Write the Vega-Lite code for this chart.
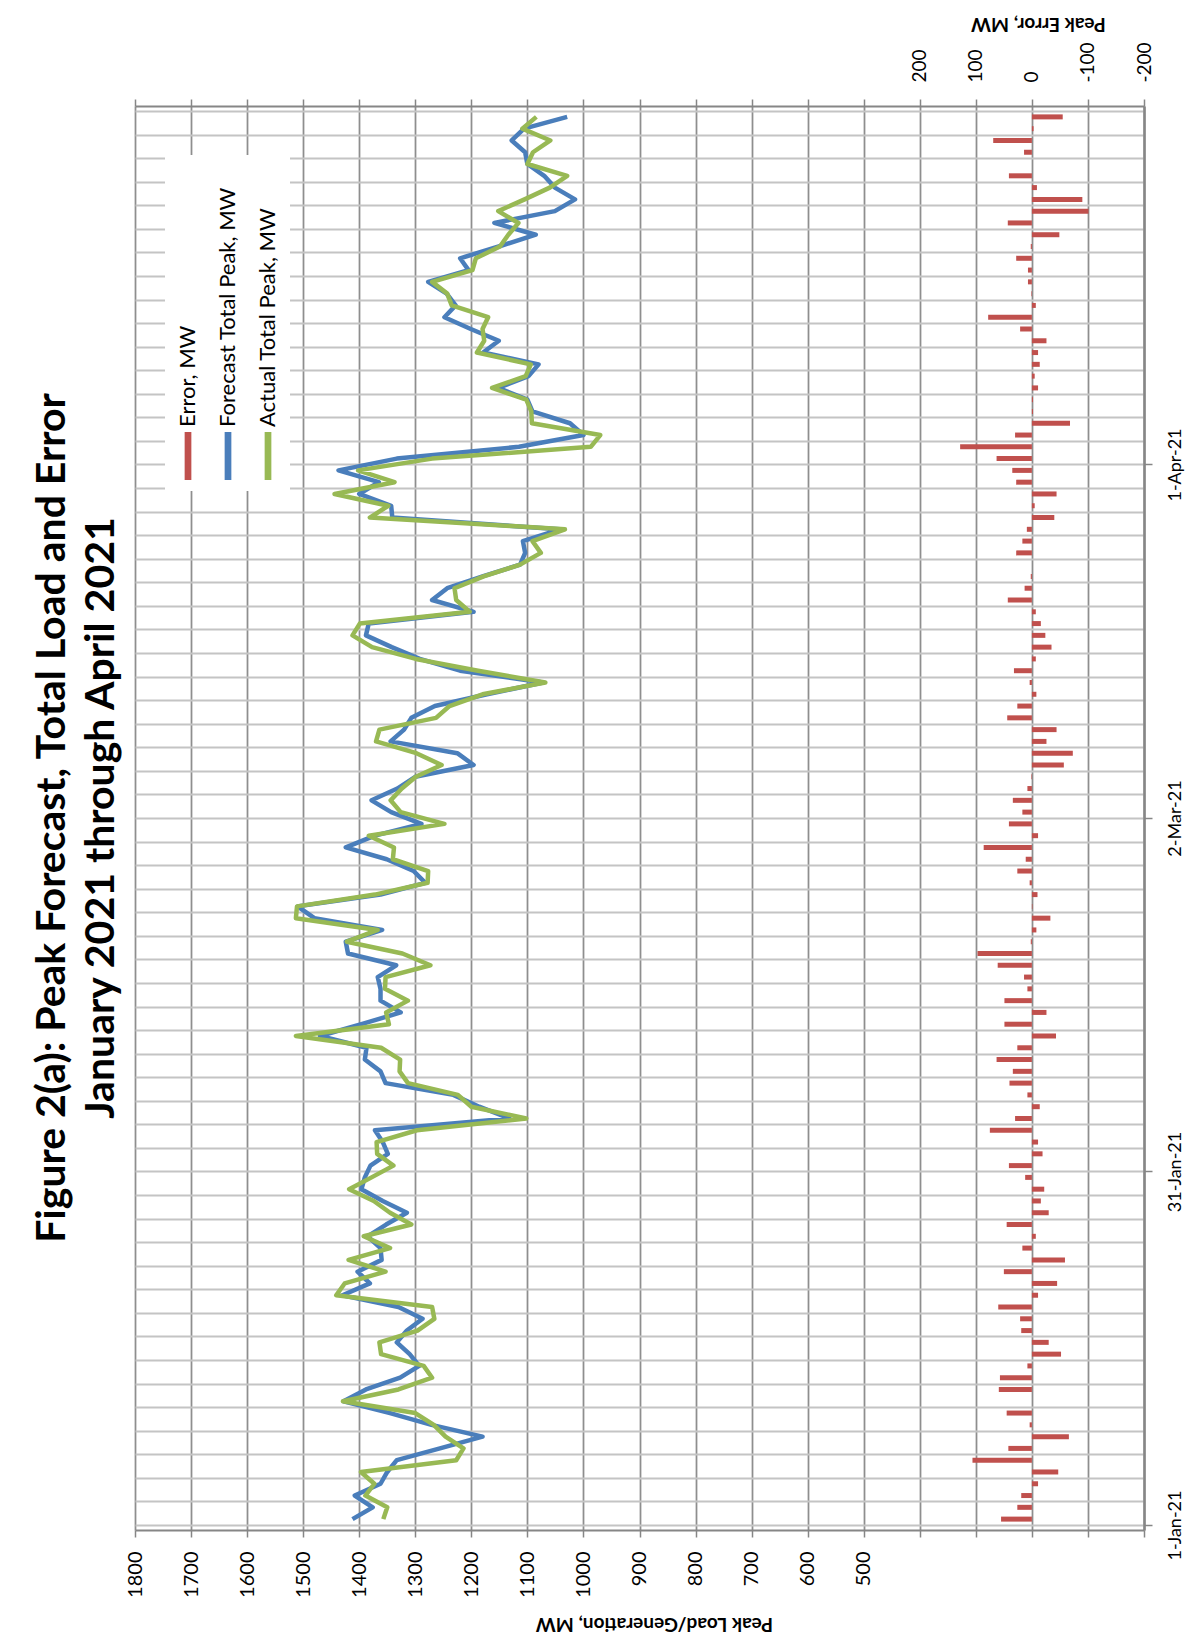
{
  "$schema": "https://vega.github.io/schema/vega-lite/v6.json",
  "width": 1009,
  "height": 1424,
  "autosize": {"type": "none"},
  "padding": {"left": 135, "top": 106, "right": 52, "bottom": 116},
  "background": "#ffffff",
  "title": {
    "text": ["Figure 2(a):  Peak Forecast, Total Load and Error", "January 2021 through April 2021"],
    "orient": "left",
    "anchor": "middle",
    "font": "Lato",
    "fontSize": 41,
    "fontWeight": "bold",
    "color": "#000000",
    "lineHeight": 49,
    "offset": 2
  },
  "data": {
    "values": [
      {"date": "2021-01-01", "forecast": 1412, "actual": 1357, "error": 55},
      {"date": "2021-01-02", "forecast": 1376, "actual": 1350, "error": 26},
      {"date": "2021-01-03", "forecast": 1408, "actual": 1389, "error": 19},
      {"date": "2021-01-04", "forecast": 1362, "actual": 1373, "error": -11},
      {"date": "2021-01-05", "forecast": 1350, "actual": 1397, "error": -47},
      {"date": "2021-01-06", "forecast": 1333, "actual": 1227, "error": 106},
      {"date": "2021-01-07", "forecast": 1256, "actual": 1214, "error": 42},
      {"date": "2021-01-08", "forecast": 1180, "actual": 1246, "error": -66},
      {"date": "2021-01-09", "forecast": 1271, "actual": 1267, "error": 4},
      {"date": "2021-01-10", "forecast": 1345, "actual": 1300, "error": 45},
      {"date": "2021-01-11", "forecast": 1428, "actual": 1429, "error": 0},
      {"date": "2021-01-12", "forecast": 1388, "actual": 1330, "error": 59},
      {"date": "2021-01-13", "forecast": 1327, "actual": 1270, "error": 57},
      {"date": "2021-01-14", "forecast": 1293, "actual": 1285, "error": 8},
      {"date": "2021-01-15", "forecast": 1310, "actual": 1361, "error": -52},
      {"date": "2021-01-16", "forecast": 1333, "actual": 1364, "error": -30},
      {"date": "2021-01-17", "forecast": 1315, "actual": 1296, "error": 19},
      {"date": "2021-01-18", "forecast": 1287, "actual": 1266, "error": 21},
      {"date": "2021-01-19", "forecast": 1330, "actual": 1270, "error": 60},
      {"date": "2021-01-20", "forecast": 1430, "actual": 1441, "error": -11},
      {"date": "2021-01-21", "forecast": 1381, "actual": 1426, "error": -45},
      {"date": "2021-01-22", "forecast": 1403, "actual": 1353, "error": 50},
      {"date": "2021-01-23", "forecast": 1360, "actual": 1419, "error": -59},
      {"date": "2021-01-24", "forecast": 1362, "actual": 1345, "error": 17},
      {"date": "2021-01-25", "forecast": 1385, "actual": 1392, "error": -7},
      {"date": "2021-01-26", "forecast": 1352, "actual": 1307, "error": 45},
      {"date": "2021-01-27", "forecast": 1315, "actual": 1345, "error": -30},
      {"date": "2021-01-28", "forecast": 1358, "actual": 1374, "error": -16},
      {"date": "2021-01-29", "forecast": 1396, "actual": 1418, "error": -22},
      {"date": "2021-01-30", "forecast": 1390, "actual": 1378, "error": 12},
      {"date": "2021-01-31", "forecast": 1380, "actual": 1339, "error": 41},
      {"date": "2021-02-01", "forecast": 1349, "actual": 1368, "error": -19},
      {"date": "2021-02-02", "forecast": 1358, "actual": 1369, "error": -11},
      {"date": "2021-02-03", "forecast": 1372, "actual": 1297, "error": 75},
      {"date": "2021-02-04", "forecast": 1132, "actual": 1102, "error": 30},
      {"date": "2021-02-05", "forecast": 1186, "actual": 1200, "error": -14},
      {"date": "2021-02-06", "forecast": 1232, "actual": 1224, "error": 8},
      {"date": "2021-02-07", "forecast": 1353, "actual": 1313, "error": 40},
      {"date": "2021-02-08", "forecast": 1362, "actual": 1328, "error": 34},
      {"date": "2021-02-09", "forecast": 1390, "actual": 1327, "error": 63},
      {"date": "2021-02-10", "forecast": 1387, "actual": 1361, "error": 26},
      {"date": "2021-02-11", "forecast": 1470, "actual": 1513, "error": -43},
      {"date": "2021-02-12", "forecast": 1396, "actual": 1347, "error": 49},
      {"date": "2021-02-13", "forecast": 1326, "actual": 1352, "error": -26},
      {"date": "2021-02-14", "forecast": 1362, "actual": 1313, "error": 49},
      {"date": "2021-02-15", "forecast": 1362, "actual": 1354, "error": 8},
      {"date": "2021-02-16", "forecast": 1367, "actual": 1353, "error": 14},
      {"date": "2021-02-17", "forecast": 1334, "actual": 1273, "error": 61},
      {"date": "2021-02-18", "forecast": 1420, "actual": 1323, "error": 97},
      {"date": "2021-02-19", "forecast": 1424, "actual": 1422, "error": 2},
      {"date": "2021-02-20", "forecast": 1359, "actual": 1367, "error": -8},
      {"date": "2021-02-21", "forecast": 1480, "actual": 1513, "error": -33},
      {"date": "2021-02-22", "forecast": 1510, "actual": 1511, "error": -1},
      {"date": "2021-02-23", "forecast": 1362, "actual": 1372, "error": -10},
      {"date": "2021-02-24", "forecast": 1282, "actual": 1278, "error": 4},
      {"date": "2021-02-25", "forecast": 1303, "actual": 1277, "error": 26},
      {"date": "2021-02-26", "forecast": 1351, "actual": 1340, "error": 11},
      {"date": "2021-02-27", "forecast": 1424, "actual": 1338, "error": 86},
      {"date": "2021-02-28", "forecast": 1372, "actual": 1383, "error": -11},
      {"date": "2021-03-01", "forecast": 1289, "actual": 1248, "error": 41},
      {"date": "2021-03-02", "forecast": 1343, "actual": 1326, "error": 17},
      {"date": "2021-03-03", "forecast": 1378, "actual": 1344, "error": 34},
      {"date": "2021-03-04", "forecast": 1332, "actual": 1324, "error": 8},
      {"date": "2021-03-05", "forecast": 1300, "actual": 1299, "error": 1},
      {"date": "2021-03-06", "forecast": 1196, "actual": 1253, "error": -57},
      {"date": "2021-03-07", "forecast": 1225, "actual": 1298, "error": -73},
      {"date": "2021-03-08", "forecast": 1344, "actual": 1370, "error": -26},
      {"date": "2021-03-09", "forecast": 1320, "actual": 1364, "error": -44},
      {"date": "2021-03-10", "forecast": 1307, "actual": 1263, "error": 44},
      {"date": "2021-03-11", "forecast": 1265, "actual": 1239, "error": 26},
      {"date": "2021-03-12", "forecast": 1172, "actual": 1180, "error": -8},
      {"date": "2021-03-13", "forecast": 1072, "actual": 1068, "error": 4},
      {"date": "2021-03-14", "forecast": 1220, "actual": 1188, "error": 32},
      {"date": "2021-03-15", "forecast": 1292, "actual": 1299, "error": -7},
      {"date": "2021-03-16", "forecast": 1342, "actual": 1377, "error": -35},
      {"date": "2021-03-17", "forecast": 1388, "actual": 1412, "error": -24},
      {"date": "2021-03-18", "forecast": 1383, "actual": 1399, "error": -16},
      {"date": "2021-03-19", "forecast": 1196, "actual": 1203, "error": -7},
      {"date": "2021-03-20", "forecast": 1270, "actual": 1227, "error": 43},
      {"date": "2021-03-21", "forecast": 1243, "actual": 1230, "error": 13},
      {"date": "2021-03-22", "forecast": 1180, "actual": 1178, "error": 2},
      {"date": "2021-03-23", "forecast": 1113, "actual": 1113, "error": 0},
      {"date": "2021-03-24", "forecast": 1104, "actual": 1076, "error": 28},
      {"date": "2021-03-25", "forecast": 1108, "actual": 1091, "error": 17},
      {"date": "2021-03-26", "forecast": 1042, "actual": 1033, "error": 9},
      {"date": "2021-03-27", "forecast": 1341, "actual": 1381, "error": -40},
      {"date": "2021-03-28", "forecast": 1343, "actual": 1348, "error": -5},
      {"date": "2021-03-29", "forecast": 1400, "actual": 1444, "error": -44},
      {"date": "2021-03-30", "forecast": 1365, "actual": 1337, "error": 28},
      {"date": "2021-03-31", "forecast": 1437, "actual": 1402, "error": 35},
      {"date": "2021-04-01", "forecast": 1333, "actual": 1270, "error": 63},
      {"date": "2021-04-02", "forecast": 1115, "actual": 987, "error": 128},
      {"date": "2021-04-03", "forecast": 1000, "actual": 970, "error": 30},
      {"date": "2021-04-04", "forecast": 1024, "actual": 1092, "error": -68},
      {"date": "2021-04-05", "forecast": 1091, "actual": 1093, "error": -2},
      {"date": "2021-04-06", "forecast": 1100, "actual": 1102, "error": -2},
      {"date": "2021-04-07", "forecast": 1152, "actual": 1163, "error": -11},
      {"date": "2021-04-08", "forecast": 1098, "actual": 1103, "error": -5},
      {"date": "2021-04-09", "forecast": 1080, "actual": 1094, "error": -14},
      {"date": "2021-04-10", "forecast": 1179, "actual": 1190, "error": -11},
      {"date": "2021-04-11", "forecast": 1151, "actual": 1177, "error": -26},
      {"date": "2021-04-12", "forecast": 1201, "actual": 1180, "error": 21},
      {"date": "2021-04-13", "forecast": 1248, "actual": 1170, "error": 78},
      {"date": "2021-04-14", "forecast": 1228, "actual": 1235, "error": -7},
      {"date": "2021-04-15", "forecast": 1244, "actual": 1243, "error": 1},
      {"date": "2021-04-16", "forecast": 1277, "actual": 1270, "error": 7},
      {"date": "2021-04-17", "forecast": 1205, "actual": 1198, "error": 7},
      {"date": "2021-04-18", "forecast": 1220, "actual": 1192, "error": 28},
      {"date": "2021-04-19", "forecast": 1151, "actual": 1149, "error": 2},
      {"date": "2021-04-20", "forecast": 1085, "actual": 1134, "error": -49},
      {"date": "2021-04-21", "forecast": 1159, "actual": 1116, "error": 43},
      {"date": "2021-04-22", "forecast": 1051, "actual": 1152, "error": -101},
      {"date": "2021-04-23", "forecast": 1015, "actual": 1105, "error": -90},
      {"date": "2021-04-24", "forecast": 1051, "actual": 1060, "error": -9},
      {"date": "2021-04-25", "forecast": 1070, "actual": 1029, "error": 41},
      {"date": "2021-04-26", "forecast": 1100, "actual": 1100, "error": 0},
      {"date": "2021-04-27", "forecast": 1104, "actual": 1090, "error": 14},
      {"date": "2021-04-28", "forecast": 1128, "actual": 1059, "error": 69},
      {"date": "2021-04-29", "forecast": 1106, "actual": 1109, "error": -3},
      {"date": "2021-04-30", "forecast": 1029, "actual": 1084, "error": -55}
    ]
  },
  "encoding": {
    "y": {
      "field": "date",
      "type": "temporal",
      "scale": {"type": "utc", "domain": [1609416000000, 1619784000000], "nice": false},
      "axis": {
        "orient": "right",
        "title": null,
        "values": [1609416000000, 1609588800000, 1609761600000, 1609934400000, 1610107200000, 1610280000000, 1610452800000, 1610625600000, 1610798400000, 1610971200000, 1611144000000, 1611316800000, 1611489600000, 1611662400000, 1611835200000, 1612008000000, 1612180800000, 1612353600000, 1612526400000, 1612699200000, 1612872000000, 1613044800000, 1613217600000, 1613390400000, 1613563200000, 1613736000000, 1613908800000, 1614081600000, 1614254400000, 1614427200000, 1614600000000, 1614772800000, 1614945600000, 1615118400000, 1615291200000, 1615464000000, 1615636800000, 1615809600000, 1615982400000, 1616155200000, 1616328000000, 1616500800000, 1616673600000, 1616846400000, 1617019200000, 1617192000000, 1617364800000, 1617537600000, 1617710400000, 1617883200000, 1618056000000, 1618228800000, 1618401600000, 1618574400000, 1618747200000, 1618920000000, 1619092800000, 1619265600000, 1619438400000, 1619611200000, 1619784000000],
        "grid": true,
        "gridColor": "#c4c4c4",
        "gridWidth": 2,
        "domainColor": "#868686",
        "domainWidth": 2.5,
        "tickSize": 8,
        "tickWidth": 1.5,
        "tickColor": "#868686",
        "tickOpacity": {"condition": {"test": "(toNumber(datum.value) - 1609416000000) % 2592000000 === 0 && toNumber(datum.value) < 1619000000000", "value": 1}, "value": 0},
        "labelExpr": "(toNumber(datum.value) - 1609416000000) % 2592000000 === 0 && toNumber(datum.value) < 1619000000000 ? utcFormat(toNumber(datum.value) + 43200000, '%-d-%b-%y') : ''",
        "labelAngle": 270,
        "labelAlign": "center",
        "labelBaseline": "top",
        "labelPadding": 14,
        "labelFontSize": 18,
        "labelOverlap": false,
        "labelFlush": false
      }
    }
  },
  "layer": [
    {
      "mark": {"type": "bar", "size": 5},
      "encoding": {
        "x": {
          "field": "error",
          "type": "quantitative",
          "scale": {"domain": [-200, 1600], "reverse": true, "nice": false, "zero": false},
          "axis": {
            "orient": "top",
            "title": "Peak Error, MW",
            "titleAngle": 180,
            "titleX": 903,
            "titleY": -83,
            "titleAlign": "center",
            "titleBaseline": "middle",
            "titleFontSize": 19,
            "titleFontWeight": "bold",
            "values": [-200, -100, 0, 100, 200, 300, 400, 500, 600, 700, 800, 900, 1000, 1100, 1200, 1300, 1400, 1500, 1600],
            "labelExpr": "datum.value <= 200 ? toString(datum.value) : ''",
            "labelAngle": 270,
            "labelAlign": "left",
            "labelBaseline": "middle",
            "labelPadding": 17,
            "labelFontSize": 19,
            "labelOverlap": false,
            "labelFlush": false,
            "grid": false,
            "tickSize": 7,
            "tickWidth": 1.5,
            "domainColor": "#868686",
            "domainWidth": 2
          }
        },
        "x2": {"datum": 0},
        "color": {
          "datum": "Error, MW",
          "scale": {
            "domain": ["Error, MW", "Forecast Total Peak, MW", "Actual Total Peak, MW"],
            "range": ["#c0504d", "#4a7ebb", "#98b954"]
          },
          "legend": {
            "orient": "none",
            "legendX": 30,
            "legendY": 49,
            "direction": "horizontal",
            "columns": 3,
            "title": null,
            "symbolType": "M-0.14,-1H0.14V1H-0.14Z",
            "symbolSize": 2304,
            "symbolStrokeWidth": 0,
            "labelFont": "Lato",
            "labelFontSize": 22,
            "labelColor": "#000000",
            "labelLimit": 0,
            "labelOffset": 0,
            "columnPadding": 17,
            "padding": 11,
            "fillColor": "#ffffff",
            "encoding": {
              "symbols": {
                "x": {"value": 12},
                "y": {"value": 290}
              },
              "labels": {
                "x": {"value": 12},
                "y": {"value": 290},
                "dx": {"value": 29},
                "angle": {"value": -90},
                "align": {"value": "left"},
                "baseline": {"value": "middle"}
              },
              "entries": {"height": {"value": 316}}
            }
          }
        }
      }
    },
    {
      "layer": [
        {
          "mark": {"type": "line", "strokeWidth": 4.5, "strokeJoin": "round"},
          "encoding": {
            "x": {
              "field": "forecast",
              "type": "quantitative",
              "scale": {"domain": [0, 1800], "reverse": true, "nice": false},
              "axis": {
                "orient": "bottom",
                "title": "Peak Load/Generation, MW",
                "titleAngle": 180,
                "titleX": 519,
                "titleY": 93,
                "titleAlign": "center",
                "titleBaseline": "middle",
                "titleFontSize": 19,
                "titleFontWeight": "bold",
                "values": [0, 100, 200, 300, 400, 500, 600, 700, 800, 900, 1000, 1100, 1200, 1300, 1400, 1500, 1600, 1700, 1800],
                "labelExpr": "datum.value >= 500 ? toString(datum.value) : ''",
                "labelAngle": 270,
                "labelAlign": "right",
                "labelBaseline": "middle",
                "labelPadding": 14,
                "labelFontSize": 20,
                "labelOverlap": false,
                "labelFlush": false,
                "grid": true,
                "gridColor": "#8e8e8e",
                "gridWidth": 1.75,
                "tickSize": 7,
                "tickWidth": 1.5,
                "domainColor": "#868686",
                "domainWidth": 2
              }
            },
            "color": {"datum": "Forecast Total Peak, MW"}
          }
        },
        {
          "mark": {"type": "line", "strokeWidth": 4.5, "strokeJoin": "round"},
          "encoding": {
            "x": {"field": "actual", "type": "quantitative"},
            "color": {"datum": "Actual Total Peak, MW"}
          }
        }
      ]
    }
  ],
  "resolve": {"scale": {"x": "independent"}, "axis": {"x": "independent"}},
  "config": {
    "view": {"stroke": null},
    "font": "Lato",
    "axis": {
      "labelFont": "Lato",
      "titleFont": "Lato",
      "labelColor": "#000000",
      "titleColor": "#000000",
      "domainColor": "#868686",
      "tickColor": "#868686"
    }
  }
}
